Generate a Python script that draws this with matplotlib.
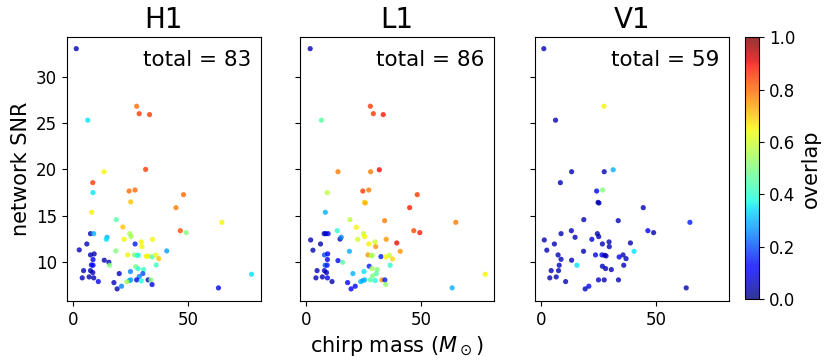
import matplotlib
matplotlib.use("Agg")
import matplotlib.pyplot as plt

# chirp mass (M_sun), network SNR and overlap per detector
h1_mass = [1.3, 6.3, 27.6, 28.7, 33.2, 13.4, 31.5, 8.5, 8.6, 24.3, 26.9, 25.0, 48.0, 44.7,
           8.0, 64.7, 18.7, 21.6, 46.6, 49.1, 7.5, 8.9, 24.6, 25.2, 5.9, 14.7, 14.4, 22.1,
           26.9, 29.6, 29.9, 34.5, 2.6, 18.5, 40.7, 7.5, 9.1, 8.6, 13.5, 15.5, 15.8, 23.7,
           26.6, 27.9, 28.3, 31.8, 32.5, 34.3, 35.9, 37.2, 7.9, 8.6, 4.5, 7.5, 8.5, 3.9,
           6.9, 8.9, 10.9, 20.0, 17.7, 19.1, 21.0, 24.9, 27.2, 28.2, 30.6, 30.3, 28.7, 27.6,
           25.0, 24.4, 23.3, 29.6, 32.6, 33.8, 34.3, 36.1, 63.2, 77.6]
h1_snr = [33.0, 25.3, 26.8, 26.0, 25.9, 19.75, 20.0, 18.57, 17.5, 17.67, 17.78, 16.5, 17.28,
          15.88, 15.38, 14.3, 14.59, 13.8, 13.4, 13.19, 13.08, 13.08, 13.08, 12.76, 11.97,
          12.69, 12.47, 12.47, 11.97, 12.19, 11.68, 12.47, 11.33, 11.22, 11.22, 10.79, 10.9,
          10.29, 10.22, 10.0, 9.68, 10.79, 10.79, 10.75, 10.75, 10.65, 10.65, 10.57, 10.79,
          10.39, 9.71, 9.68, 9.1, 9.1, 8.89, 8.32, 8.42, 8.32, 7.92, 8.78, 7.81, 7.13, 7.42,
          9.0, 9.53, 9.32, 9.21, 8.78, 8.46, 8.1, 8.1, 8.03, 7.89, 7.99, 8.1, 8.1, 7.6, 9.71,
          7.24, 8.71]
h1_overlap = [0.05, 0.35, 0.8, 0.85, 0.85, 0.65, 0.85, 0.85, 0.35, 0.8, 0.8, 0.7, 0.8, 0.78,
              0.65, 0.65, 0.45, 0.7, 0.83, 0.5, 0.05, 0.3, 0.55, 0.55, 0.05, 0.3, 0.35, 0.65,
              0.15, 0.65, 0.65, 0.65, 0.05, 0.5, 0.28, 0.05, 0.05, 0.1, 0.05, 0.05, 0.5, 0.65,
              0.5, 0.42, 0.4, 0.65, 0.65, 0.45, 0.62, 0.7, 0.12, 0.12, 0.05, 0.05, 0.05, 0.05,
              0.05, 0.05, 0.1, 0.05, 0.05, 0.05, 0.25, 0.25, 0.5, 0.4, 0.42, 0.2, 0.25, 0.1,
              0.28, 0.3, 0.55, 0.38, 0.05, 0.5, 0.1, 0.42, 0.1, 0.35]

l1_mass = [1.7, 6.6, 27.9, 29.2, 33.5, 13.8, 28.0, 31.8, 9.1, 24.6, 27.2, 25.3, 25.7, 48.3,
           45.0, 8.3, 65.1, 19.0, 34.1, 21.8, 46.8, 49.4, 7.8, 8.5, 9.5, 13.5, 24.9, 25.4,
           1.9, 6.2, 14.7, 15.2, 22.4, 27.2, 29.9, 30.2, 34.8, 39.4, 2.9, 18.8, 40.9, 7.9,
           9.3, 9.2, 13.8, 15.8, 26.9, 28.3, 28.7, 32.5, 34.6, 36.2, 37.5, 8.2, 9.1, 27.4,
           36.5, 4.7, 7.9, 8.8, 4.2, 7.0, 9.2, 11.2, 20.3, 18.0, 19.5, 21.3, 25.1, 28.6, 30.9,
           30.5, 28.9, 27.9, 25.4, 24.6, 23.7, 30.0, 32.9, 34.2, 34.6, 63.5, 77.9]
l1_snr = [33.0, 25.3, 26.8, 26.0, 25.9, 19.75, 19.75, 19.96, 17.5, 17.67, 17.78, 16.45, 16.38,
          17.28, 15.88, 15.38, 14.3, 14.59, 14.48, 13.76, 13.4, 13.19, 13.08, 13.08, 13.08,
          13.4, 13.08, 12.76, 12.4, 11.97, 12.5, 12.69, 12.47, 11.97, 12.19, 11.68, 12.47,
          12.08, 11.3, 11.18, 11.18, 10.79, 10.9, 10.29, 10.18, 10.0, 10.79, 10.72, 10.72,
          10.61, 10.57, 10.75, 10.36, 9.68, 9.68, 9.57, 9.68, 9.1, 9.1, 8.89, 8.32, 8.42,
          8.32, 7.92, 8.78, 7.81, 7.13, 7.42, 9.0, 9.32, 9.21, 8.78, 8.53, 8.1, 8.1, 8.03,
          7.92, 8.03, 8.1, 8.1, 7.6, 7.24, 8.71]
l1_overlap = [0.05, 0.45, 0.85, 0.85, 0.88, 0.78, 0.78, 0.9, 0.58, 0.85, 0.78, 0.68, 0.72,
              0.85, 0.88, 0.3, 0.78, 0.58, 0.78, 0.65, 0.83, 0.88, 0.05, 0.05, 0.1, 0.4, 0.6,
              0.65, 0.05, 0.05, 0.05, 0.25, 0.6, 0.65, 0.6, 0.75, 0.75, 0.9, 0.05, 0.3, 0.75,
              0.2, 0.1, 0.12, 0.12, 0.45, 0.75, 0.58, 0.55, 0.15, 0.65, 0.6, 0.68, 0.2, 0.15,
              0.15, 0.4, 0.05, 0.05, 0.05, 0.05, 0.05, 0.1, 0.05, 0.3, 0.12, 0.12, 0.12, 0.35,
              0.55, 0.5, 0.45, 0.5, 0.45, 0.3, 0.3, 0.3, 0.38, 0.75, 0.15, 0.52, 0.3, 0.65]

v1_mass = [1.1, 6.2, 27.3, 13.2, 27.4, 31.3, 8.3, 24.1, 26.7, 24.7, 25.1, 44.4, 18.5, 33.5,
           64.7, 13.1, 46.4, 48.9, 8.6, 24.4, 25.0, 1.3, 5.7, 14.7, 22.0, 26.6, 29.5, 29.6,
           38.8, 2.4, 18.4, 40.4, 7.3, 8.6, 13.2, 15.5, 23.6, 26.4, 27.6, 28.2, 33.9, 35.6,
           36.9, 7.8, 35.9, 4.3, 7.5, 3.7, 6.5, 10.6, 20.7, 19.1, 26.6, 28.0, 30.5, 24.9,
           27.4, 33.6, 63.1]
v1_snr = [33.0, 25.3, 26.8, 19.75, 19.75, 19.96, 18.57, 17.67, 17.78, 16.45, 16.38, 15.88,
          14.59, 14.48, 14.3, 13.4, 13.4, 13.19, 13.08, 13.08, 12.76, 12.4, 11.97, 12.69,
          12.47, 11.97, 12.19, 11.68, 12.08, 11.3, 11.18, 11.18, 10.79, 10.32, 10.22, 9.68,
          10.79, 10.79, 10.75, 10.68, 10.57, 10.79, 10.39, 9.68, 9.68, 9.1, 9.1, 8.32, 8.42,
          7.92, 7.42, 7.13, 9.57, 9.32, 9.21, 8.1, 8.1, 8.1, 7.24]
v1_overlap = [0.05, 0.05, 0.65, 0.05, 0.05, 0.3, 0.05, 0.1, 0.5, 0.05, 0.05, 0.05, 0.05, 0.05,
              0.15, 0.05, 0.12, 0.05, 0.05, 0.05, 0.05, 0.05, 0.05, 0.05, 0.1, 0.05, 0.05,
              0.05, 0.05, 0.05, 0.05, 0.35, 0.05, 0.05, 0.05, 0.35, 0.1, 0.1, 0.05, 0.05, 0.1,
              0.05, 0.05, 0.05, 0.05, 0.05, 0.05, 0.05, 0.05, 0.05, 0.1, 0.05, 0.05, 0.05,
              0.05, 0.08, 0.05, 0.05, 0.05]

detectors = ["H1", "L1", "V1"]
totals = [83, 86, 59]
panels = [(h1_mass, h1_snr, h1_overlap),
          (l1_mass, l1_snr, l1_overlap),
          (v1_mass, v1_snr, v1_overlap)]

fig = plt.figure(figsize=(8.31, 3.63), dpi=100)
lefts = [0.0806, 0.361, 0.6438]
axes = []
for left in lefts:
    ax = fig.add_axes([left, 0.171, 0.2335, 0.728],
                      sharex=axes[0] if axes else None,
                      sharey=axes[0] if axes else None)
    axes.append(ax)

for ax, det, tot, (m, snr, ov) in zip(axes, detectors, totals, panels):
    sc = ax.scatter(m, snr, c=ov, cmap="jet", vmin=0, vmax=1, alpha=0.8,
                    s=14, linewidths=0)
    ax.set_title(det, fontsize=20)
    ax.text(0.95, 0.95, f"total = {tot}", transform=ax.transAxes,
            ha="right", va="top", fontsize=15.5)
    ax.tick_params(labelsize=12)
    if ax is not axes[0]:
        ax.tick_params(labelleft=False)

axes[0].set_xticks([0, 50])
axes[0].set_yticks([10, 15, 20, 25, 30])
axes[0].set_ylabel("network SNR", fontsize=15)
axes[1].set_xlabel(r"chirp mass ($M_\odot$)", fontsize=15)

cax = fig.add_axes([0.8965, 0.176, 0.0168, 0.721])
cb = fig.colorbar(sc, cax=cax)
cb.set_label("overlap", fontsize=15)
cb.ax.tick_params(labelsize=12)

fig.savefig("out.png", dpi=100)
